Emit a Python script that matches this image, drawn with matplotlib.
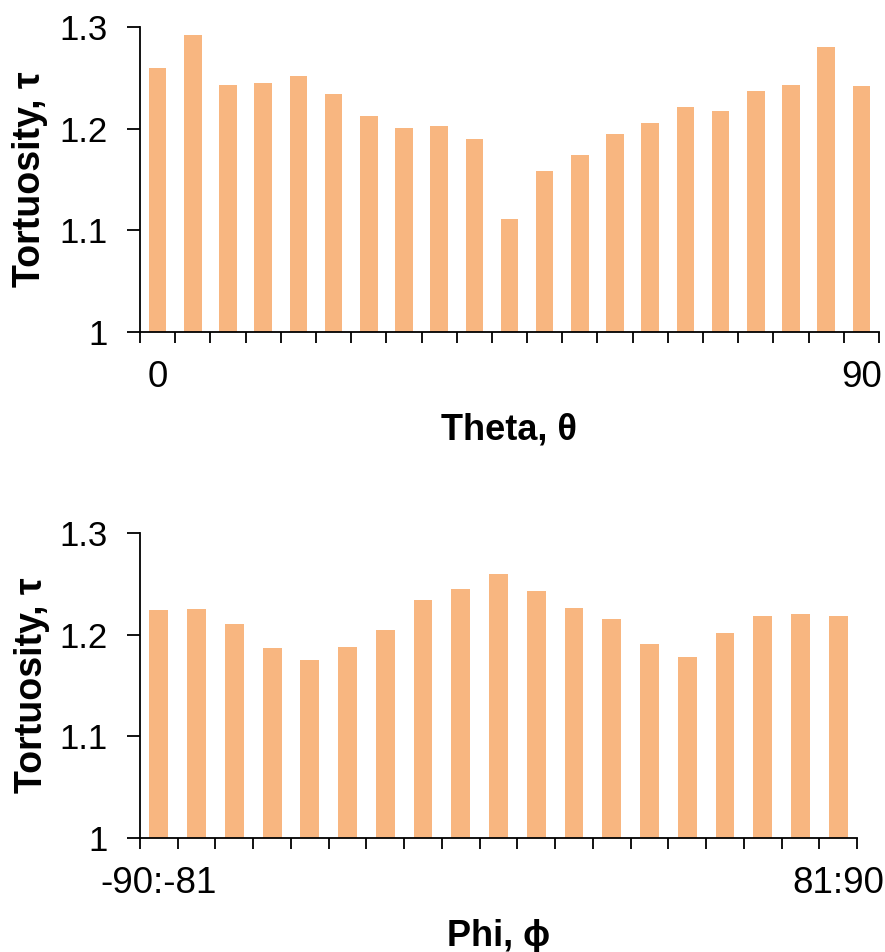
import numpy as np
import matplotlib.pyplot as plt
from matplotlib.ticker import FixedLocator

plt.rcParams['font.family'] = ['Liberation Sans', 'DejaVu Sans']

# tortuosity vs theta (21 bins, 0..90)
theta_tau = [1.260, 1.292, 1.243, 1.245, 1.252, 1.234, 1.212, 1.201, 1.203, 1.190,
             1.111, 1.158, 1.174, 1.195, 1.206, 1.221, 1.217, 1.237, 1.243, 1.280, 1.242]
theta_labels = ['0'] + [''] * 19 + ['90']

# tortuosity vs phi (19 bins, -90:-81 .. 81:90)
phi_tau = [1.224, 1.225, 1.211, 1.187, 1.175, 1.188, 1.205, 1.234, 1.245, 1.260,
           1.243, 1.226, 1.215, 1.191, 1.178, 1.202, 1.218, 1.220, 1.218]
phi_labels = ['-90:-81'] + [''] * 17 + ['81:90']

bar_color = '#F8B680'

fig = plt.figure(figsize=(8.85, 9.52), dpi=100)
ax1 = fig.add_axes([0.1582, 0.6513, 0.8350, 0.3203])
ax2 = fig.add_axes([0.1582, 0.1197, 0.8102, 0.3204])


def style(ax, vals, labels, xlabel):
    n = len(vals)
    x = np.arange(n)
    ax.bar(x, vals, width=0.5, color=bar_color, zorder=2)
    ax.set_xlim(-0.5, n - 0.5)
    ax.set_ylim(1, 1.3)
    ax.set_yticks([1, 1.1, 1.2, 1.3])
    ax.set_yticklabels(['1', '1.1', '1.2', '1.3'])
    ax.set_xticks(x)
    ax.set_xticklabels(labels)
    ax.xaxis.set_minor_locator(FixedLocator(np.arange(n + 1) - 0.5))
    ax.tick_params(axis='x', which='major', length=0, pad=20, labelsize=26.5)
    ax.tick_params(axis='x', which='minor', length=8, width=1.3, direction='out')
    ax.tick_params(axis='y', which='major', length=9.5, width=1.3, direction='out',
                   pad=14, labelsize=25)
    for s in ['top', 'right']:
        ax.spines[s].set_visible(False)
    for s in ['left', 'bottom']:
        ax.spines[s].set_linewidth(1.3)
        ax.spines[s].set_color('black')
        ax.spines[s].set_zorder(3)
    ax.set_ylabel('Tortuosity, τ', fontsize=27, fontweight='bold')
    ax.yaxis.set_label_coords(-0.125, 0.5)
    ax.set_xlabel(xlabel, fontsize=26, fontweight='bold', va='top')
    ax.xaxis.set_label_coords(0.5, -0.265)


style(ax1, theta_tau, theta_labels, 'Theta, θ')
style(ax2, phi_tau, phi_labels, 'Phi, ϕ')

plt.savefig('out.png', dpi=100)
